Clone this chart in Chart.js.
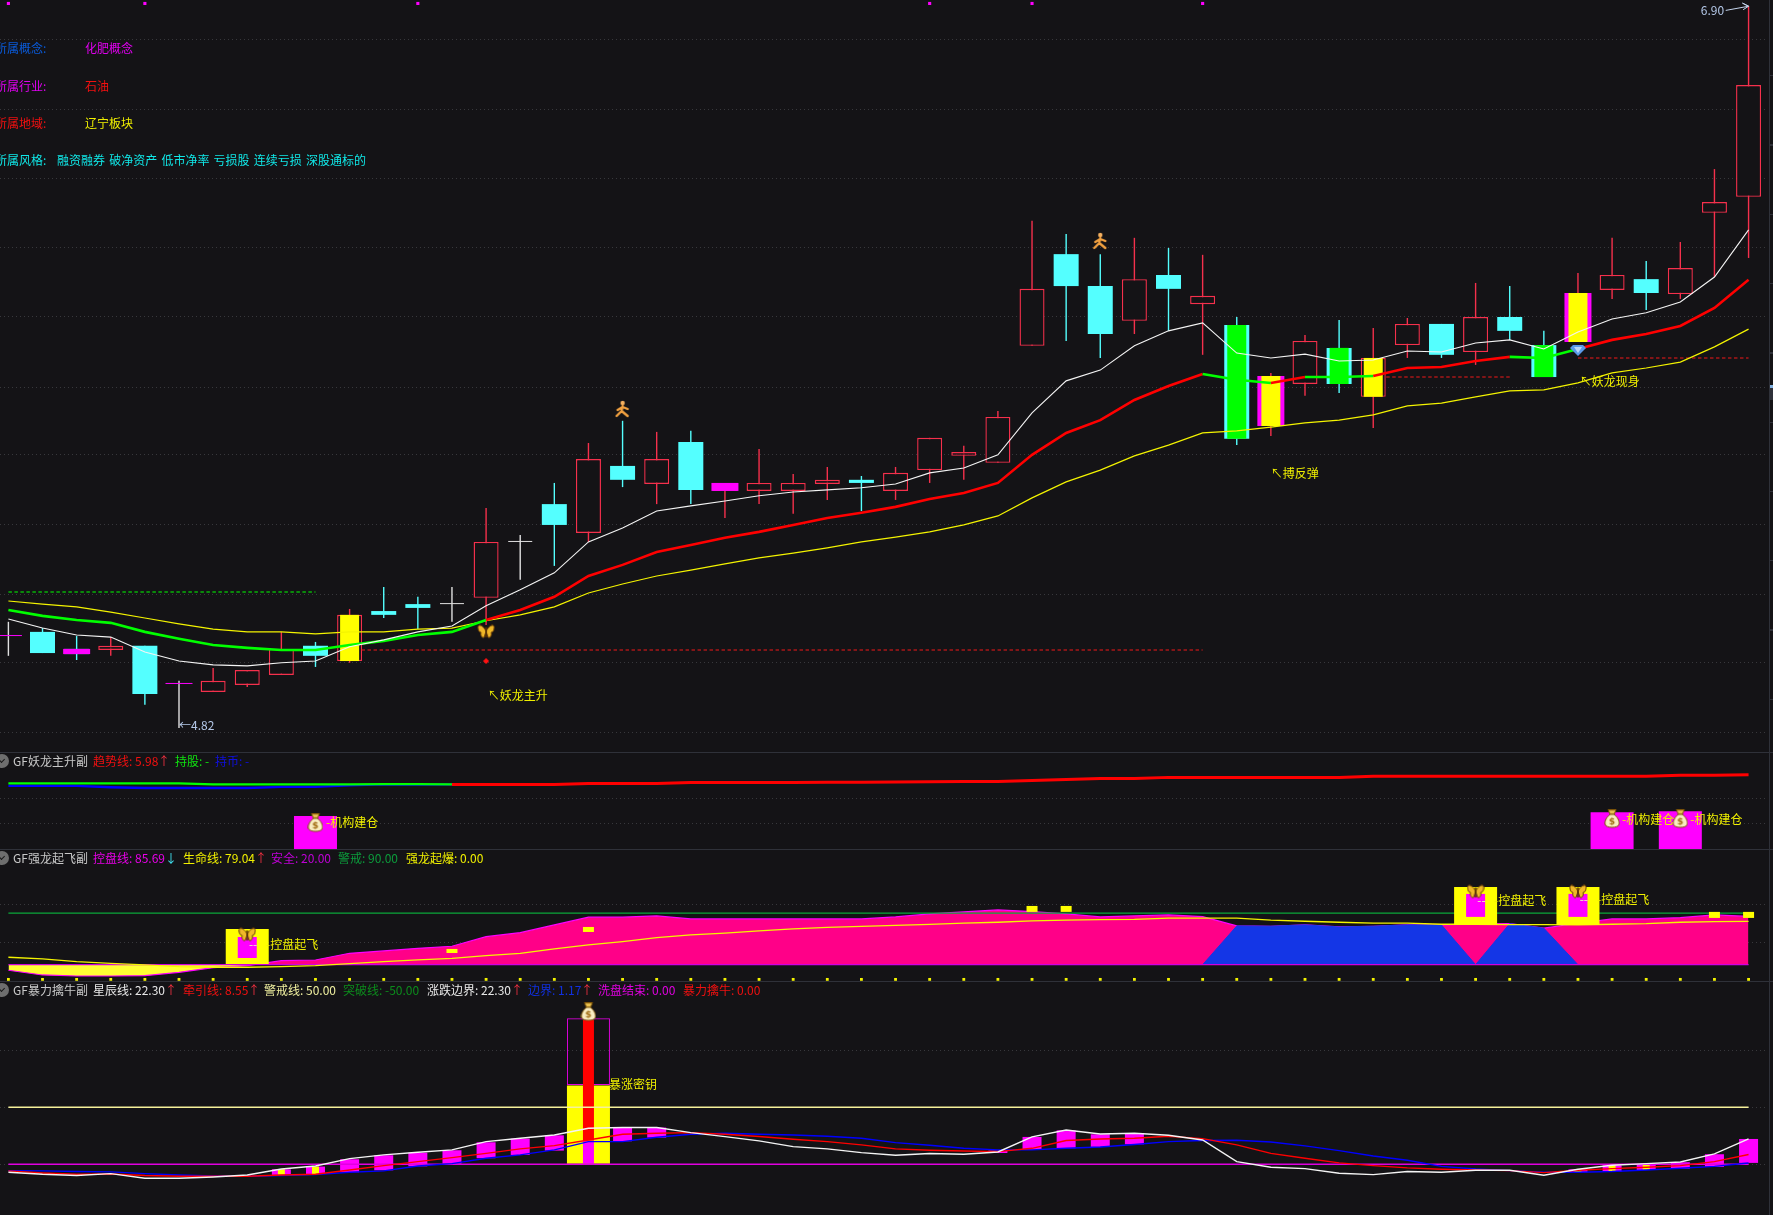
<!DOCTYPE html>
<html>
<head>
<meta charset="utf-8">
<script src="https://cdn.jsdelivr.net/npm/chart.js@4"></script>
<style>
  html, body { margin: 0; background: #141316; overflow: hidden; }
  #page { position: relative; width: 1773px; height: 1215px; overflow: hidden; background: #141316; }
  canvas { position: absolute; left: 0; display: block; }
  .sep { position: absolute; left: 0; width: 1773px; height: 1px; background: #2f3139; }
  .t { position: absolute; font: 12px/16px "Noto Sans CJK SC", sans-serif; white-space: pre; }
  .dot { position: absolute; left: -5px; width: 14px; height: 14px; border-radius: 7px; background: #6e6e6e; }
  .dot::after { content: ""; position: absolute; left: 4px; top: 3px; width: 4px; height: 4px; border-right: 1px solid #1a1a1a; border-bottom: 1px solid #1a1a1a; transform: rotate(45deg); }
  #edge { position: absolute; left: 1767px; top: 0; width: 6px; height: 1215px; background: #141316; }
  #edgeLine { position: absolute; left: 1769px; top: 0; width: 1px; height: 1215px; background: #2f3139; }
  #edgeTicks { position: absolute; left: 1770px; top: 7px; width: 3px; height: 745px;
    background: repeating-linear-gradient(to bottom, transparent 0, transparent 68px, #2f3139 68px, #2f3139 69.3px); }
  #edgeTab { position: absolute; left: 1770px; top: 385px; width: 3px; height: 15px; background: #2f3139; border-top: 3px solid #80b0e0; box-sizing: border-box; }
</style>
</head>
<body>
<div id="page">
  <canvas id="main" width="1773" height="752" style="top:0"></canvas>
  <canvas id="sub1" width="1773" height="97" style="top:753px"></canvas>
  <canvas id="sub2" width="1773" height="131" style="top:850px"></canvas>
  <canvas id="sub3" width="1773" height="233" style="top:982px"></canvas>
  <div id="edge"></div>
  <div id="edgeTicks"></div>
  <div id="edgeLine"></div>
  <div id="edgeTab"></div>
  <div class="sep" style="top:752px"></div>
  <div class="sep" style="top:849px"></div>
  <div class="sep" style="top:981px"></div>

  <div class="t" style="left:-5px;top:40px;color:#0a5ad8">所属概念:</div>
  <div class="t" style="left:85px;top:40px;color:#e000f0">化肥概念</div>
  <div class="t" style="left:-5px;top:78px;color:#e000f0">所属行业:</div>
  <div class="t" style="left:85px;top:78px;color:#f01010">石油</div>
  <div class="t" style="left:-5px;top:115px;color:#f01010">所属地域:</div>
  <div class="t" style="left:85px;top:115px;color:#f0f000">辽宁板块</div>
  <div class="t" style="left:-5px;top:152px;color:#10e8e8">所属风格:</div>
  <div class="t" style="left:57px;top:152px;color:#10e8e8;word-spacing:1.5px">融资融券 破净资产 低市净率 亏损股 连续亏损 深股通标的</div>

  <div class="dot" style="top:754px"></div>
  <div class="t" style="left:13px;top:753px;color:#c8c8c8">GF妖龙主升副</div>
  <div class="t" style="left:93px;top:753px;color:#f01010">趋势线: 5.98</div>
  <div class="t" style="left:158px;top:753px;color:#f03040">↑</div>
  <div class="t" style="left:175px;top:753px;color:#10e010">持股: -</div>
  <div class="t" style="left:215px;top:753px;color:#1010e0">持币: -</div>

  <div class="dot" style="top:851px"></div>
  <div class="t" style="left:13px;top:850px;color:#c8c8c8">GF强龙起飞副</div>
  <div class="t" style="left:93px;top:850px;color:#e800e8">控盘线: 85.69</div>
  <div class="t" style="left:165px;top:850px;color:#40e0f0">↓</div>
  <div class="t" style="left:183px;top:850px;color:#f0f000">生命线: 79.04</div>
  <div class="t" style="left:255px;top:850px;color:#f03040">↑</div>
  <div class="t" style="left:271px;top:850px;color:#c000d8">安全: 20.00</div>
  <div class="t" style="left:338px;top:850px;color:#0c9c3c">警戒: 90.00</div>
  <div class="t" style="left:406px;top:850px;color:#f0f000">强龙起爆: 0.00</div>

  <div class="dot" style="top:983px"></div>
  <div class="t" style="left:13px;top:982px;color:#c8c8c8">GF暴力擒牛副</div>
  <div class="t" style="left:93px;top:982px;color:#e8e8e8">星辰线: 22.30</div>
  <div class="t" style="left:165px;top:982px;color:#f03040">↑</div>
  <div class="t" style="left:183px;top:982px;color:#f01010">牵引线: 8.55</div>
  <div class="t" style="left:248px;top:982px;color:#f03040">↑</div>
  <div class="t" style="left:264px;top:982px;color:#f0f0a0">警戒线: 50.00</div>
  <div class="t" style="left:343px;top:982px;color:#0c8c1c">突破线: -50.00</div>
  <div class="t" style="left:427px;top:982px;color:#e8e8e8">涨跌边界: 22.30</div>
  <div class="t" style="left:511px;top:982px;color:#f03040">↑</div>
  <div class="t" style="left:528px;top:982px;color:#1030e0">边界: 1.17</div>
  <div class="t" style="left:581px;top:982px;color:#f03040">↑</div>
  <div class="t" style="left:598px;top:982px;color:#e000e0">洗盘结束: 0.00</div>
  <div class="t" style="left:683px;top:982px;color:#f01010">暴力擒牛: 0.00</div>
</div>

<script>
// candles
const opens = [5.085,5.097,5.048,5.045,5.057,4.947,4.924,4.944,4.973,5.057,
  5.013,5.157,5.177,5.177,5.195,5.356,5.465,5.382,5.575,5.523,
  5.644,5.503,5.503,5.503,5.523,5.535,5.503,5.563,5.604,5.584,
  5.921,6.185,6.093,5.993,6.125,6.041,5.981,5.690,5.811,5.915,
  5.774,5.923,5.984,5.903,6.004,5.923,5.932,6.082,6.113,6.070,6.304,6.350]
const closes = [5.085,5.036,5.033,5.057,4.918,4.947,4.956,4.987,5.048,5.028,
  5.146,5.146,5.166,5.177,5.356,5.356,5.405,5.595,5.535,5.595,
  5.506,5.526,5.526,5.526,5.535,5.526,5.555,5.656,5.615,5.716,
  6.085,6.093,5.955,6.113,6.085,6.065,5.653,5.834,5.935,5.811,
  5.886,5.984,5.895,6.004,5.964,5.831,6.073,6.125,6.073,6.145,6.335,6.672]
const highs = [5.126,5.108,5.085,5.082,5.057,4.956,4.993,4.987,5.097,5.068,
  5.163,5.226,5.198,5.226,5.454,5.376,5.526,5.641,5.705,5.673,
  5.676,5.526,5.624,5.552,5.572,5.546,5.572,5.656,5.633,5.733,
  6.281,6.243,6.185,6.232,6.203,6.183,6.004,5.843,5.952,5.995,
  5.972,6.001,5.984,6.102,6.093,5.964,6.131,6.232,6.165,6.220,6.430,6.900]
const lows = [5.028,5.036,5.016,5.028,4.887,4.820,4.924,4.938,4.973,4.996,
  5.008,5.137,5.105,5.126,5.117,5.247,5.287,5.356,5.514,5.465,
  5.465,5.425,5.465,5.437,5.477,5.445,5.477,5.526,5.535,5.584,
  5.921,5.935,5.886,5.955,5.964,5.895,5.635,5.661,5.777,5.785,
  5.684,5.886,5.886,5.866,5.938,5.831,5.932,6.056,6.024,6.056,6.119,6.174]

const whiteLine = [5.134,5.108,5.088,5.082,5.039,5.013,5.002,4.999,5.008,5.013,
  5.054,5.074,5.097,5.114,5.172,5.218,5.267,5.356,5.396,5.445,
  5.460,5.474,5.489,5.500,5.506,5.512,5.523,5.555,5.569,5.607,
  5.728,5.820,5.851,5.921,5.964,5.987,5.900,5.886,5.897,5.877,
  5.880,5.906,5.903,5.929,5.938,5.912,5.961,5.998,6.016,6.047,6.119,6.255]
const trendLine = [5.160,5.143,5.131,5.123,5.097,5.077,5.059,5.051,5.045,5.045,
  5.059,5.071,5.088,5.097,5.131,5.160,5.198,5.258,5.290,5.327,
  5.347,5.368,5.385,5.405,5.425,5.440,5.457,5.480,5.497,5.526,
  5.607,5.670,5.707,5.765,5.805,5.840,5.823,5.814,5.831,5.831,
  5.834,5.857,5.860,5.877,5.889,5.886,5.912,5.938,5.955,5.978,6.030,6.111]
const yellowLine = [5.186,5.177,5.169,5.154,5.137,5.120,5.105,5.097,5.097,5.091,
  5.097,5.097,5.105,5.108,5.129,5.146,5.169,5.209,5.235,5.258,
  5.275,5.293,5.310,5.324,5.339,5.356,5.370,5.385,5.405,5.431,
  5.483,5.529,5.563,5.604,5.635,5.670,5.676,5.687,5.699,5.707,
  5.722,5.748,5.756,5.774,5.791,5.794,5.814,5.843,5.857,5.874,5.918,5.969]
const greenRuns = [[0,14],[35,37],[38,40],[44,46]]

const magentaBody = [0,2,5,21,37,46]
const yellowBody = [10,37,40,46]
const greenBody = [36,39,45]
const topMarks = [0,4,12,27,30,35]
const mainGrid = [6.802,6.603,6.404,6.203,6.004,5.802,5.607,5.405,5.206,5.008,4.806]
const greenStop = [0,9,5.212]
const redStops = [[10.35,35,5.045],[40.38,44,5.831],[46,51,5.886]]
const highArrow = [[50.33,6.887],[51,6.899],[50.82,6.908],[51,6.899],[50.84,6.889]]

// 趋势线 panel
const holdLine = [5.30,5.30,5.30,5.30,5.30,5.30,5.22,5.22,5.22,5.22,5.22,5.24,5.24,5.22]
const cashLine = [5.10,5.10,5.10,5.00,4.94,4.94,4.94,4.94,5.02,5.02,5.14,5.22,5.20,5.22]
const riseLine = [5.22,5.22,5.22,5.22,5.30,5.30,5.30,5.38,5.38,5.38,5.38,5.40,5.40,5.42,5.44,5.45,5.46,
  5.54,5.62,5.70,5.70,5.78,5.78,5.78,5.78,5.78,5.78,5.86,5.86,5.86,5.86,5.86,5.86,5.86,5.86,5.86,5.94,5.94,5.98]
const buildIdx = [9,47,49]
const buildTop = [2.70,3.00,3.08]
const sub1Grid = [4.10,2.10]

// 控盘线 panel
const holdArea = [12.4,6.0,4.6,4.6,5.0,9.6,15.9,18.6,25.4,26.4,
  35.5,38.7,42.3,45.1,58.1,63.6,74.1,84.6,84.6,86.3,
  82.2,82.2,82.2,82.2,82.2,82.2,85.0,89.1,91.8,94.5,
  92.2,89.1,85.0,86.3,87.7,85.4,72.7,72.3,74.1,71.3,
  72.3,74.1,74.1,75.4,75.8,69.6,76.4,82.2,82.2,84.0,87.7,85.69]
const blueArea = [20,72.7,72.3,74.1,71.3,72.3,74.1,74.1,20,75.8,69.6,20]
const lifeLine = [30.1,27.8,24.1,21.9,19.6,17.3,16.5,16.5,17.3,18.6,
  21.4,24.1,26.4,28.7,32.3,35.5,41.4,46.8,51.3,56.8,
  60.5,62.8,65.9,68.6,70.7,72.0,73.4,74.8,76.4,77.7,
  79.5,80.5,81.3,81.6,83.2,83.2,83.2,80.5,79.1,77.7,
  76.4,76.4,75.0,75.0,74.5,74.5,74.1,75.0,75.8,77.7,78.6,79.04]
const blastLine = [0,0,0,0,0,0,0,0,0,0,0,0,0,0,0,0,0,0,0,0,0,0,0,0,0,0,
  0,0,0,0,0,0,0,0,0,0,0,0,0,0,0,0,0,0,0,0,0,0,0,0,0,0]
const takeoffIdx = [7,43,46]
const takeoffTop = [68.6,125.8,125.8]
const takeoffBot = [21,74.1,74.1]
const takeoffInTop = [57.7,116.3,116.3]
const takeoffInBot = [29.1,85,85]
const smallIdx = [13,17,30,31,50,51]
const smallTop = [41.4,71.3,99.9,99.9,91.8,91.8]
const smallBot = [35.9,64.5,91.8,91.8,83.6,83.6]
const sub2Grid = [101.3,50.5]

// 星辰线 panel
const starLine = [-7.0,-8.8,-9.9,-8.2,-12.3,-12.3,-11.1,-9.4,-4.1,-1.5,
  5.0,8.2,10.5,12.6,19.9,22.8,25.7,31.6,32.2,32.2,
  27.8,24.3,20.5,15.5,13.5,10.2,7.9,9.4,8.8,10.8,
  24.0,30.1,26.6,27.2,25.4,21.3,2.3,-2.6,-3.8,-7.9,
  -9.1,-6.4,-7.0,-5.3,-5.3,-9.6,-4.4,-0.9,0.6,2.0,9.1,22.30]
const pullLine = [-5.8,-7.6,-8.8,-8.5,-9.9,-10.5,-10.5,-10.5,-9.4,-8.8,
  -5.0,-1.2,2.3,5.8,9.6,13.5,16.4,21.3,26.3,27.2,
  27.8,26.3,24.3,21.9,19.9,17.0,13.5,12.3,11.7,11.1,
  14.0,20.8,22.2,22.8,24.6,22.5,17.0,9.6,5.3,1.2,
  -1.2,-3.2,-4.4,-5.0,-5.6,-7.3,-5.3,-3.8,-2.6,-1.2,2.3,8.55]
const edgeLine = [-5.6,-5.8,-6.4,-6.7,-8.2,-9.4,-10.2,-10.5,-9.9,-9.1,
  -7.0,-5.8,-1.5,0.6,5.3,8.2,12.6,19.9,19.9,23.7,
  26.3,27.2,26.3,25.7,24.6,22.8,19.0,16.7,14.0,12.6,
  12.6,14.0,15.2,17.3,19.9,20.8,21.1,19.6,16.1,12.0,
  7.3,3.5,-1.8,-4.1,-5.6,-7.0,-7.0,-6.4,-5.0,-3.5,-1.8,1.17]
const boxIdx = [8,9,10,11,12,13,14,15,16,18,19,29,30,31,32,33,46,47,48,49,50,51]
const boxTop = [-4.4,-2.0,4.4,7.9,10.2,12.3,19.3,22.5,25.4,32.2,32.2,12.0,24.0,29.8,26.3,26.9,-4.4,-0.9,0,1.8,8.8,22.2]
const boxBot = [-9.4,-8.5,-7.0,-5.3,-1.8,0.6,5.3,8.2,12.0,20.2,23.4,9.9,12.6,14.0,15.2,17.5,-7.0,-6.4,-5.0,-3.8,-2.3,1.2]
const coreIdx = [8,9,46,47,48]
const coreTop = [-4.4,-2.0,-4.4,-0.9,-0.6]
const coreBot = [-9.4,-8.5,-6.9,-5.8,-5.0]
const sub3Grid = [100,50,0]

const mainLabels = [
  { x: 14.05, y: 4.913, text: '↖妖龙主升', color: '#f0f000' },
  { x: 37, y: 5.552, text: '↖搏反弹', color: '#f0f000' },
  { x: 46.05, y: 5.817, text: '↖妖龙现身', color: '#f0f000' },
  { x: 5, y: 4.827, text: '←4.82', color: '#b4c8e8' },
  { x: 49.6, y: 6.887, text: '6.90', color: '#b4c8e8' },
]
const sub1Labels = [
  { x: 9.31, y: 2.2, text: '-机构建仓', color: '#f0f000' },
  { x: 47.29, y: 2.46, text: '-机构建仓', color: '#f0f000' },
  { x: 49.29, y: 2.46, text: '-机构建仓', color: '#f0f000' },
]
const sub2Labels = [
  { x: 7.05, y: 48.2, text: '--', color: '#f0f0c0' },
  { x: 43.05, y: 106.8, text: '--', color: '#f0f0c0' },
  { x: 46.05, y: 108.1, text: '--', color: '#f0f0c0' },
  { x: 7.55, y: 48.2, text: '-控盘起飞', color: '#f0f000' },
  { x: 43.54, y: 106.8, text: '-控盘起飞', color: '#f0f000' },
  { x: 46.56, y: 108.1, text: '-控盘起飞', color: '#f0f000' },
]
const sub3Labels = [
  { x: 17.6, y: 70.2, text: '暴涨密钥', color: '#f0f000' },
]

const BG = '#141316', RED = '#f5304c', CYAN = '#54ffff', MAGENTA = '#ff00ff', YELLOW = '#ffff00', GREEN = '#00ff00'
const xMin = -0.246, xMax = 51.716

const series = (vals, from = 0) => vals.map((v, i) => ({ x: i + from, y: v }))
const barsAt = (idx, tops, bots) => idx.map((x, k) => ({ x, y: [bots[k], tops[k]] }))
const flat = (v, a = 0, b = 51) => [{ x: a, y: v }, { x: b, y: v }]

const line = (data, color, width, extra = {}) => ({
  type: 'line', data, borderColor: color, borderWidth: width, pointRadius: 0, tension: 0, fill: false, ...extra
})
const bars = (data, color, thick, extra = {}) => ({
  type: 'bar', data, backgroundColor: color, barThickness: thick, grouped: false, inflateAmount: 0, ...extra
})
const points = (data, style, radius, color) => ({
  type: 'line', data, showLine: false, pointStyle: style, pointRadius: radius,
  pointBackgroundColor: color, pointBorderColor: color, pointBorderWidth: 0
})

function icon(w, h, draw) {
  const c = document.createElement('canvas')
  c.width = w; c.height = h
  draw(c.getContext('2d'))
  return c
}
const butterfly = icon(18, 15, g => {
  g.strokeStyle = '#6a3e06'; g.lineWidth = 1
  for (const s of [1, -1]) {
    g.fillStyle = '#f0b828'
    g.beginPath(); g.moveTo(9, 7)
    g.bezierCurveTo(9 + s * 3, 0, 9 + s * 9, -1, 9 + s * 8, 4)
    g.bezierCurveTo(9 + s * 8, 7, 9 + s * 6, 8, 9 + s * 5, 8)
    g.bezierCurveTo(9 + s * 6, 11, 9 + s * 4, 14, 9 + s * 2, 13)
    g.closePath(); g.fill(); g.stroke()
  }
  g.fillStyle = '#5a3206'; g.fillRect(8.2, 3, 1.6, 10)
})
const runner = icon(16, 18, g => {
  g.strokeStyle = '#f0a040'; g.lineWidth = 2.4; g.lineCap = 'round'
  g.fillStyle = '#f4b060'; g.beginPath(); g.arc(8, 3, 2.2, 0, 7); g.fill()
  g.beginPath(); g.moveTo(8, 6); g.lineTo(7, 11); g.lineTo(2, 16); g.moveTo(7, 11); g.lineTo(13, 16)
  g.moveTo(8, 7); g.lineTo(13, 9); g.moveTo(8, 7); g.lineTo(3, 10); g.stroke()
})
const gem = icon(16, 12, g => {
  g.fillStyle = '#5a9ae8'; g.beginPath(); g.moveTo(3, 1); g.lineTo(13, 1); g.lineTo(16, 4); g.lineTo(8, 12); g.lineTo(0, 4); g.closePath(); g.fill()
  g.fillStyle = '#bcd8f8'; g.beginPath(); g.moveTo(4, 3); g.lineTo(12, 3); g.lineTo(8, 9); g.closePath(); g.fill()
})
const bag = icon(16, 20, g => {
  g.strokeStyle = '#7a5208'; g.lineWidth = 1
  g.fillStyle = '#e8c050'
  g.beginPath(); g.moveTo(4, 0.5); g.lineTo(12, 0.5); g.lineTo(10, 5); g.lineTo(6, 5); g.closePath(); g.fill(); g.stroke()
  g.fillStyle = '#f8ecc0'
  g.beginPath(); g.moveTo(6, 5); g.bezierCurveTo(2, 8, 0.5, 12, 1, 15); g.bezierCurveTo(1.5, 19, 14.5, 19, 15, 15)
  g.bezierCurveTo(15.5, 12, 14, 8, 10, 5); g.closePath(); g.fill(); g.stroke()
  g.fillStyle = '#a06a10'; g.font = 'bold 9px "DejaVu Sans"'; g.textAlign = 'center'; g.textBaseline = 'middle'; g.fillText('$', 8, 12.5)
})
const redDot = icon(6, 6, g => {
  g.fillStyle = '#ff1010'; g.beginPath(); g.moveTo(3, 0); g.lineTo(6, 3); g.lineTo(3, 6); g.lineTo(0, 3); g.closePath(); g.fill()
})

const textMarks = list => ({
  id: 'textMarks',
  afterDraw(chart) {
    const { ctx, scales } = chart
    ctx.save()
    ctx.font = '12px "Noto Sans CJK SC"'
    ctx.textBaseline = 'middle'
    for (const m of list) {
      ctx.fillStyle = m.color
      ctx.fillText(m.text, scales.x.getPixelForValue(m.x), scales.y.getPixelForValue(m.y))
    }
    ctx.restore()
  }
})

function makeChart(id, yMin, yMax, gridVals, datasets, labels) {
  return new Chart(document.getElementById(id), {
    type: 'bar',
    data: { datasets },
    options: {
      responsive: false,
      animation: false,
      events: [],
      layout: { padding: 0, autoPadding: false },
      plugins: { legend: { display: false }, tooltip: { enabled: false } },
      scales: {
        x: { type: 'linear', display: false, offset: false, min: xMin, max: xMax },
        y: {
          min: yMin, max: yMax,
          afterBuildTicks: s => { s.ticks = gridVals.map(value => ({ value })) },
          ticks: { display: false },
          grid: { color: '#38383c', drawTicks: false, lineWidth: 1 },
          border: { display: false, dash: [1, 3] },
        }
      }
    },
    plugins: [textMarks(labels)]
  })
}

const allIdx = opens.map((_, i) => i)
const bodyAt = idx => idx.map(i => ({ x: i, y: [opens[i], closes[i]] }))
const upIdx = allIdx.filter(i => closes[i] > opens[i])
const downIdx = allIdx.filter(i => closes[i] < opens[i])
const dojiIdx = allIdx.filter(i => closes[i] === opens[i] && !magentaBody.includes(i))
const wickColors = allIdx.map(i => closes[i] > opens[i] ? RED : closes[i] < opens[i] ? CYAN : '#e0e0e0')
const isGreen = i => greenRuns.some(r => i >= r[0] && i < r[1])
const stopSeries = runs => runs.map(r => line(flat(r[2], r[0], r[1]), '#f01818', 1.1, { borderDash: [3.5, 2.5] }))

makeChart('main', 4.751, 6.917, mainGrid, [
  points([{ x: 14, y: 5.097 }], butterfly, 8, '#e8a820'),
  points([{ x: 14, y: 5.013 }], redDot, 3, '#ff1010'),
  points([{ x: 18, y: 5.739 }, { x: 32, y: 6.223 }], runner, 8, '#f0a040'),
  points([{ x: 46, y: 5.909 }], gem, 8, '#5a9ae8'),
  points(topMarks.map(x => ({ x, y: 6.907 })), 'rect', 2.2, MAGENTA),
  line(highArrow.map(p => ({ x: p[0], y: p[1] })), '#c4d4ec', 1),
  line(series(whiteLine), '#f4f4f4', 1.1),
  line(series(trendLine), RED, 2.6, {
    segment: { borderColor: c => isGreen(c.p0DataIndex) ? GREEN : '#ff0000' }
  }),
  line(series(yellowLine), '#f4f400', 1.2),
  line(flat(greenStop[2], greenStop[0], greenStop[1]), GREEN, 1.1, { borderDash: [3.5, 2.5] }),
  ...stopSeries(redStops),
  bars(bodyAt(yellowBody), YELLOW, 19),
  bars(bodyAt(greenBody), GREEN, 19),
  bars(bodyAt(magentaBody), MAGENTA, 27, { minBarLength: 1 }),
  bars(bodyAt(dojiIdx), '#e0e0e0', 24, { minBarLength: 1 }),
  bars(bodyAt(downIdx), CYAN, 25),
  bars(bodyAt(upIdx), BG, 25, { borderColor: RED, borderWidth: 1.4, borderSkipped: false }),
  bars(allIdx.map(i => ({ x: i, y: [lows[i], highs[i]] })), wickColors, 1.4),
], mainLabels)

makeChart('sub1', 0, 7.72, sub1Grid, [
  points([{ x: 9, y: 2.12 }, { x: 47, y: 2.44 }, { x: 49, y: 2.44 }], bag, 8, '#c89a30'),
  line(series(riseLine, 13), '#ff0000', 3),
  line(series(holdLine), GREEN, 2.4),
  line(series(cashLine), '#0000ff', 2.4),
  bars(barsAt(buildIdx, buildTop, [0, 0, 0]), MAGENTA, 43),
], sub1Labels)

makeChart('sub2', -2.2, 176, sub2Grid, [
  points([{ x: 7, y: 60.5 }, { x: 43, y: 119 }, { x: 46, y: 119 }], butterfly, 8, '#e8a820'),
  points(series(blastLine), 'rect', 2, '#f4f400'),
  bars(barsAt(takeoffIdx, takeoffInTop, takeoffInBot), MAGENTA, 19),
  bars(barsAt(takeoffIdx, takeoffTop, takeoffBot), YELLOW, 43),
  bars(barsAt(smallIdx, smallTop, smallBot), YELLOW, 11),
  line(flat(90), '#0aa83a', 1.3),
  line(series(lifeLine), '#f4f400', 1.3),
  line(flat(20), '#d000e0', 1.3),
  line(series(blueArea, 35), '#1436e6', 1, { fill: { value: 20 }, backgroundColor: '#1436e6' }),
  line(series(holdArea), MAGENTA, 1.2, { fill: { value: 20, above: '#ff0088', below: '#ffff33' } }),
], sub2Labels)

makeChart('sub3', -44.5, 159.9, sub3Grid, [
  points([{ x: 17, y: 133.3 }], bag, 8, '#c89a30'),
  line(series(starLine), '#f4f4f4', 1.4),
  line(series(pullLine), '#ff0000', 1.4),
  line(series(edgeLine), '#0000ff', 1.4),
  line(flat(0), '#e000e0', 1.5),
  line(flat(50), '#f5f09a', 1.5),
  bars([{ x: 17, y: [20.8, 126.6] }], '#ff0000', 11),
  bars([{ x: 17, y: [0, 20.8] }], MAGENTA, 11),
  bars(barsAt(coreIdx, coreTop, coreBot), YELLOW, 7),
  bars(barsAt(boxIdx, boxTop, boxBot), MAGENTA, 19),
  bars([{ x: 17, y: [0, 69] }], YELLOW, 43),
  bars([{ x: 17, y: [69.6, 128.1] }], 'rgba(0,0,0,0)', 43, { borderColor: '#e000e0', borderWidth: 1, borderSkipped: false }),
], sub3Labels)
</script>
</body>
</html>
